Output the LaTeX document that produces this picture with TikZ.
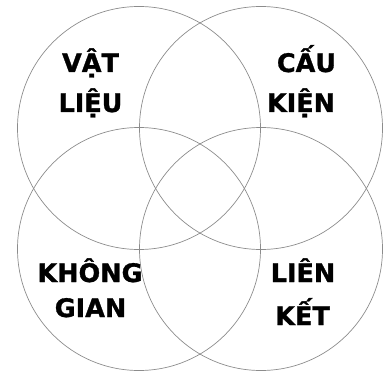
\documentclass[tikz,border=0pt]{standalone}
\usepackage{fontspec}
\setmainfont{DejaVu Sans}[BoldFeatures={FakeBold=1.2}]
\begin{document}
\begin{tikzpicture}[x=1pt,y=-1pt,
  ring/.style={circle,draw=black!45,line width=0.7pt,minimum size=243pt,inner sep=0pt},
  lbl/.style={anchor=base,inner sep=0pt,font=\fontsize{25.5}{30}\bfseries\selectfont}]
\useasboundingbox (0,0) rectangle (385,374);
\node[ring] (c1) at (139,128) {};
\node[ring] (c2) at (261,128) {};
\node[ring] (c3) at (139,249) {};
\node[ring] (c4) at (261,249) {};
\node[lbl] (t1a) at (90.5,72) {VẬT};
\node[lbl] (t1b) at (90.5,112) {LIỆU};
\node[lbl] (t2a) at (306.5,72) {CẤU};
\node[lbl] (t2b) at (301,112) {KIỆN};
\node[lbl] (t3a) at (90,282) {KHÔNG};
\node[lbl] (t3b) at (90.5,317) {GIAN};
\node[lbl] (t4a) at (303,282) {LIÊN};
\node[lbl] (t4b) at (302.5,325) {KẾT};
\end{tikzpicture}
\end{document}
